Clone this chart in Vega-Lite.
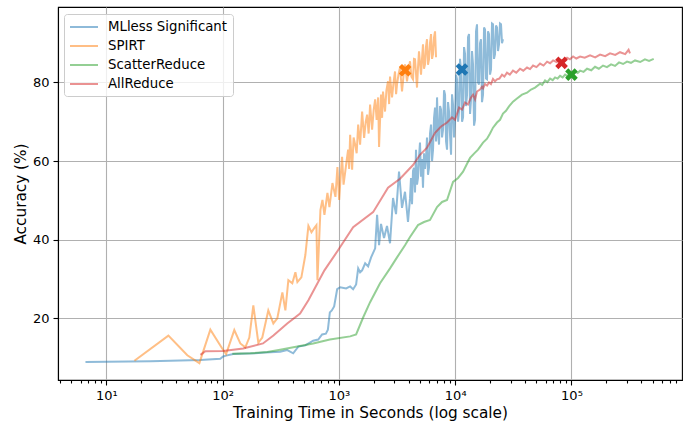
{
  "$schema": "https://vega.github.io/schema/vega-lite/v6.json",
  "width": 624,
  "height": 373,
  "autosize": {"type": "none"},
  "padding": {"left": 58, "top": 7, "right": 7, "bottom": 42},
  "background": "white",
  "config": {
    "font": "DejaVu Sans",
    "view": {"stroke": "black", "strokeWidth": 1.1},
    "axis": {
      "domainColor": "black", "domainWidth": 1.1,
      "tickColor": "black", "tickWidth": 1.1,
      "labelColor": "black", "labelFontSize": 13, "labelFont": "DejaVu Sans",
      "titleFontSize": 15.3, "titleFontWeight": "normal", "titleColor": "black", "titleFont": "DejaVu Sans",
      "gridColor": "#b0b0b0", "gridWidth": 1.1
    }
  },
  "datasets": {
    "lines": [
      {"method": "MLless Significant", "time": 6.6, "accuracy": 8.9},
      {"method": "MLless Significant", "time": 23.9, "accuracy": 9.1},
      {"method": "MLless Significant", "time": 64.2, "accuracy": 9.4},
      {"method": "MLless Significant", "time": 95.3, "accuracy": 9.7},
      {"method": "MLless Significant", "time": 101, "accuracy": 10.3},
      {"method": "MLless Significant", "time": 107, "accuracy": 10.5},
      {"method": "MLless Significant", "time": 123, "accuracy": 10.9},
      {"method": "MLless Significant", "time": 141, "accuracy": 11.0},
      {"method": "MLless Significant", "time": 190, "accuracy": 11.1},
      {"method": "MLless Significant", "time": 232, "accuracy": 11.3},
      {"method": "MLless Significant", "time": 312, "accuracy": 11.5},
      {"method": "MLless Significant", "time": 359, "accuracy": 11.9},
      {"method": "MLless Significant", "time": 404, "accuracy": 11.1},
      {"method": "MLless Significant", "time": 447, "accuracy": 12.8},
      {"method": "MLless Significant", "time": 513, "accuracy": 13.1},
      {"method": "MLless Significant", "time": 600, "accuracy": 14.3},
      {"method": "MLless Significant", "time": 663, "accuracy": 14.6},
      {"method": "MLless Significant", "time": 716, "accuracy": 15.9},
      {"method": "MLless Significant", "time": 772, "accuracy": 16.1},
      {"method": "MLless Significant", "time": 803, "accuracy": 17.1},
      {"method": "MLless Significant", "time": 835, "accuracy": 21.5},
      {"method": "MLless Significant", "time": 868, "accuracy": 22.0},
      {"method": "MLless Significant", "time": 909, "accuracy": 23.0},
      {"method": "MLless Significant", "time": 965, "accuracy": 27.4},
      {"method": "MLless Significant", "time": 1024, "accuracy": 27.9},
      {"method": "MLless Significant", "time": 1153, "accuracy": 27.6},
      {"method": "MLless Significant", "time": 1248, "accuracy": 28.1},
      {"method": "MLless Significant", "time": 1324, "accuracy": 27.4},
      {"method": "MLless Significant", "time": 1405, "accuracy": 28.6},
      {"method": "MLless Significant", "time": 1463, "accuracy": 32.7},
      {"method": "MLless Significant", "time": 1520, "accuracy": 31.7},
      {"method": "MLless Significant", "time": 1582, "accuracy": 32.2},
      {"method": "MLless Significant", "time": 1680, "accuracy": 34.0},
      {"method": "MLless Significant", "time": 1782, "accuracy": 33.2},
      {"method": "MLless Significant", "time": 1890, "accuracy": 35.5},
      {"method": "MLless Significant", "time": 2048, "accuracy": 37.8},
      {"method": "MLless Significant", "time": 2128, "accuracy": 46.3},
      {"method": "MLless Significant", "time": 2213, "accuracy": 38.6},
      {"method": "MLless Significant", "time": 2300, "accuracy": 44.0},
      {"method": "MLless Significant", "time": 2442, "accuracy": 40.4},
      {"method": "MLless Significant", "time": 2590, "accuracy": 43.5},
      {"method": "MLless Significant", "time": 2750, "accuracy": 39.1},
      {"method": "MLless Significant", "time": 2918, "accuracy": 50.6},
      {"method": "MLless Significant", "time": 3097, "accuracy": 46.5},
      {"method": "MLless Significant", "time": 3286, "accuracy": 57.3},
      {"method": "MLless Significant", "time": 3487, "accuracy": 48.1},
      {"method": "MLless Significant", "time": 3700, "accuracy": 52.2},
      {"method": "MLless Significant", "time": 3926, "accuracy": 44.5},
      {"method": "MLless Significant", "time": 4085, "accuracy": 50.5},
      {"method": "MLless Significant", "time": 4166, "accuracy": 55.7},
      {"method": "MLless Significant", "time": 4250, "accuracy": 49.0},
      {"method": "MLless Significant", "time": 4335, "accuracy": 57.5},
      {"method": "MLless Significant", "time": 4421, "accuracy": 58.3},
      {"method": "MLless Significant", "time": 4510, "accuracy": 52.0},
      {"method": "MLless Significant", "time": 4600, "accuracy": 62.9},
      {"method": "MLless Significant", "time": 4692, "accuracy": 54.0},
      {"method": "MLless Significant", "time": 4785, "accuracy": 55.7},
      {"method": "MLless Significant", "time": 4882, "accuracy": 61.0},
      {"method": "MLless Significant", "time": 4978, "accuracy": 64.7},
      {"method": "MLless Significant", "time": 5079, "accuracy": 56.0},
      {"method": "MLless Significant", "time": 5183, "accuracy": 60.5},
      {"method": "MLless Significant", "time": 5283, "accuracy": 53.2},
      {"method": "MLless Significant", "time": 5390, "accuracy": 62.0},
      {"method": "MLless Significant", "time": 5497, "accuracy": 58.0},
      {"method": "MLless Significant", "time": 5606, "accuracy": 60.8},
      {"method": "MLless Significant", "time": 5719, "accuracy": 66.0},
      {"method": "MLless Significant", "time": 5833, "accuracy": 56.5},
      {"method": "MLless Significant", "time": 5949, "accuracy": 58.3},
      {"method": "MLless Significant", "time": 6070, "accuracy": 67.0},
      {"method": "MLless Significant", "time": 6196, "accuracy": 69.3},
      {"method": "MLless Significant", "time": 6320, "accuracy": 60.0},
      {"method": "MLless Significant", "time": 6446, "accuracy": 62.9},
      {"method": "MLless Significant", "time": 6575, "accuracy": 71.0},
      {"method": "MLless Significant", "time": 6706, "accuracy": 73.6},
      {"method": "MLless Significant", "time": 6840, "accuracy": 65.0},
      {"method": "MLless Significant", "time": 6977, "accuracy": 76.2},
      {"method": "MLless Significant", "time": 7117, "accuracy": 67.0},
      {"method": "MLless Significant", "time": 7259, "accuracy": 64.2},
      {"method": "MLless Significant", "time": 7405, "accuracy": 74.0},
      {"method": "MLless Significant", "time": 7553, "accuracy": 73.1},
      {"method": "MLless Significant", "time": 7705, "accuracy": 66.0},
      {"method": "MLless Significant", "time": 7858, "accuracy": 68.0},
      {"method": "MLless Significant", "time": 8015, "accuracy": 78.0},
      {"method": "MLless Significant", "time": 8176, "accuracy": 76.9},
      {"method": "MLless Significant", "time": 8340, "accuracy": 65.0},
      {"method": "MLless Significant", "time": 8506, "accuracy": 62.9},
      {"method": "MLless Significant", "time": 8676, "accuracy": 75.0},
      {"method": "MLless Significant", "time": 8850, "accuracy": 72.6},
      {"method": "MLless Significant", "time": 9027, "accuracy": 66.5},
      {"method": "MLless Significant", "time": 9207, "accuracy": 61.6},
      {"method": "MLless Significant", "time": 9390, "accuracy": 77.0},
      {"method": "MLless Significant", "time": 9579, "accuracy": 74.4},
      {"method": "MLless Significant", "time": 9770, "accuracy": 66.0},
      {"method": "MLless Significant", "time": 9966, "accuracy": 70.5},
      {"method": "MLless Significant", "time": 10170, "accuracy": 82.0},
      {"method": "MLless Significant", "time": 10370, "accuracy": 80.8},
      {"method": "MLless Significant", "time": 10580, "accuracy": 70.0},
      {"method": "MLless Significant", "time": 10790, "accuracy": 72.6},
      {"method": "MLless Significant", "time": 11000, "accuracy": 86.0},
      {"method": "MLless Significant", "time": 11220, "accuracy": 83.3},
      {"method": "MLless Significant", "time": 11450, "accuracy": 70.0},
      {"method": "MLless Significant", "time": 11680, "accuracy": 71.1},
      {"method": "MLless Significant", "time": 11910, "accuracy": 89.0},
      {"method": "MLless Significant", "time": 12150, "accuracy": 87.2},
      {"method": "MLless Significant", "time": 12390, "accuracy": 74.0},
      {"method": "MLless Significant", "time": 12640, "accuracy": 76.9},
      {"method": "MLless Significant", "time": 12890, "accuracy": 91.5},
      {"method": "MLless Significant", "time": 13150, "accuracy": 92.3},
      {"method": "MLless Significant", "time": 13420, "accuracy": 72.0},
      {"method": "MLless Significant", "time": 13680, "accuracy": 75.7},
      {"method": "MLless Significant", "time": 13950, "accuracy": 88.0},
      {"method": "MLless Significant", "time": 14230, "accuracy": 84.6},
      {"method": "MLless Significant", "time": 14520, "accuracy": 69.0},
      {"method": "MLless Significant", "time": 14810, "accuracy": 70.5},
      {"method": "MLless Significant", "time": 15100, "accuracy": 93.0},
      {"method": "MLless Significant", "time": 15400, "accuracy": 94.8},
      {"method": "MLless Significant", "time": 15710, "accuracy": 80.0},
      {"method": "MLless Significant", "time": 16030, "accuracy": 79.5},
      {"method": "MLless Significant", "time": 16350, "accuracy": 90.0},
      {"method": "MLless Significant", "time": 16670, "accuracy": 91.0},
      {"method": "MLless Significant", "time": 17000, "accuracy": 75.0},
      {"method": "MLless Significant", "time": 17350, "accuracy": 76.9},
      {"method": "MLless Significant", "time": 17700, "accuracy": 94.0},
      {"method": "MLless Significant", "time": 18050, "accuracy": 93.5},
      {"method": "MLless Significant", "time": 18410, "accuracy": 81.0},
      {"method": "MLless Significant", "time": 18780, "accuracy": 80.8},
      {"method": "MLless Significant", "time": 19150, "accuracy": 93.0},
      {"method": "MLless Significant", "time": 19530, "accuracy": 92.3},
      {"method": "MLless Significant", "time": 19930, "accuracy": 82.0},
      {"method": "MLless Significant", "time": 20320, "accuracy": 83.3},
      {"method": "MLless Significant", "time": 20730, "accuracy": 95.0},
      {"method": "MLless Significant", "time": 21140, "accuracy": 94.8},
      {"method": "MLless Significant", "time": 21560, "accuracy": 86.0},
      {"method": "MLless Significant", "time": 22000, "accuracy": 87.2},
      {"method": "MLless Significant", "time": 22440, "accuracy": 94.5},
      {"method": "MLless Significant", "time": 22880, "accuracy": 94.0},
      {"method": "MLless Significant", "time": 23340, "accuracy": 88.0},
      {"method": "MLless Significant", "time": 23810, "accuracy": 89.7},
      {"method": "MLless Significant", "time": 24290, "accuracy": 95.0},
      {"method": "MLless Significant", "time": 24770, "accuracy": 94.8},
      {"method": "MLless Significant", "time": 25270, "accuracy": 90.0},
      {"method": "MLless Significant", "time": 25770, "accuracy": 91.0},

      {"method": "SPIRT", "time": 17.4, "accuracy": 9.2},
      {"method": "SPIRT", "time": 34.1, "accuracy": 15.6},
      {"method": "SPIRT", "time": 49.6, "accuracy": 10.6},
      {"method": "SPIRT", "time": 63, "accuracy": 8.6},
      {"method": "SPIRT", "time": 67, "accuracy": 11.0},
      {"method": "SPIRT", "time": 78.3, "accuracy": 17.1},
      {"method": "SPIRT", "time": 99, "accuracy": 12.3},
      {"method": "SPIRT", "time": 107, "accuracy": 10.9},
      {"method": "SPIRT", "time": 125.8, "accuracy": 17.0},
      {"method": "SPIRT", "time": 141.7, "accuracy": 13.6},
      {"method": "SPIRT", "time": 156.5, "accuracy": 12.6},
      {"method": "SPIRT", "time": 169.4, "accuracy": 15.1},
      {"method": "SPIRT", "time": 183.4, "accuracy": 23.3},
      {"method": "SPIRT", "time": 202.5, "accuracy": 13.8},
      {"method": "SPIRT", "time": 219, "accuracy": 15.1},
      {"method": "SPIRT", "time": 246.7, "accuracy": 22.0},
      {"method": "SPIRT", "time": 272.6, "accuracy": 18.7},
      {"method": "SPIRT", "time": 295, "accuracy": 20.0},
      {"method": "SPIRT", "time": 326, "accuracy": 26.6},
      {"method": "SPIRT", "time": 346, "accuracy": 22.0},
      {"method": "SPIRT", "time": 367, "accuracy": 29.7},
      {"method": "SPIRT", "time": 397, "accuracy": 28.9},
      {"method": "SPIRT", "time": 422, "accuracy": 31.7},
      {"method": "SPIRT", "time": 439, "accuracy": 29.2},
      {"method": "SPIRT", "time": 475, "accuracy": 30.4},
      {"method": "SPIRT", "time": 514, "accuracy": 36.1},
      {"method": "SPIRT", "time": 546, "accuracy": 43.5},
      {"method": "SPIRT", "time": 580, "accuracy": 41.9},
      {"method": "SPIRT", "time": 615, "accuracy": 43.0},
      {"method": "SPIRT", "time": 640, "accuracy": 43.7},
      {"method": "SPIRT", "time": 653, "accuracy": 29.7},
      {"method": "SPIRT", "time": 693, "accuracy": 47.6},
      {"method": "SPIRT", "time": 721, "accuracy": 50.1},
      {"method": "SPIRT", "time": 750, "accuracy": 46.3},
      {"method": "SPIRT", "time": 796, "accuracy": 51.9},
      {"method": "SPIRT", "time": 828, "accuracy": 48.3},
      {"method": "SPIRT", "time": 879, "accuracy": 54.4},
      {"method": "SPIRT", "time": 933, "accuracy": 50.9},
      {"method": "SPIRT", "time": 970, "accuracy": 58.5},
      {"method": "SPIRT", "time": 1004, "accuracy": 50.1},
      {"method": "SPIRT", "time": 1034, "accuracy": 56.0},
      {"method": "SPIRT", "time": 1064, "accuracy": 61.1},
      {"method": "SPIRT", "time": 1095, "accuracy": 54.0},
      {"method": "SPIRT", "time": 1129, "accuracy": 57.0},
      {"method": "SPIRT", "time": 1163, "accuracy": 60.0},
      {"method": "SPIRT", "time": 1199, "accuracy": 62.9},
      {"method": "SPIRT", "time": 1223, "accuracy": 58.0},
      {"method": "SPIRT", "time": 1248, "accuracy": 66.7},
      {"method": "SPIRT", "time": 1298, "accuracy": 57.8},
      {"method": "SPIRT", "time": 1337, "accuracy": 66.0},
      {"method": "SPIRT", "time": 1377, "accuracy": 64.2},
      {"method": "SPIRT", "time": 1420, "accuracy": 62.0},
      {"method": "SPIRT", "time": 1463, "accuracy": 69.3},
      {"method": "SPIRT", "time": 1520, "accuracy": 64.2},
      {"method": "SPIRT", "time": 1582, "accuracy": 72.6},
      {"method": "SPIRT", "time": 1646, "accuracy": 65.9},
      {"method": "SPIRT", "time": 1700, "accuracy": 70.0},
      {"method": "SPIRT", "time": 1747, "accuracy": 71.8},
      {"method": "SPIRT", "time": 1800, "accuracy": 67.0},
      {"method": "SPIRT", "time": 1853, "accuracy": 74.4},
      {"method": "SPIRT", "time": 1928, "accuracy": 68.0},
      {"method": "SPIRT", "time": 1990, "accuracy": 73.0},
      {"method": "SPIRT", "time": 2048, "accuracy": 75.7},
      {"method": "SPIRT", "time": 2110, "accuracy": 70.5},
      {"method": "SPIRT", "time": 2173, "accuracy": 76.2},
      {"method": "SPIRT", "time": 2213, "accuracy": 63.6},
      {"method": "SPIRT", "time": 2300, "accuracy": 76.9},
      {"method": "SPIRT", "time": 2350, "accuracy": 71.0},
      {"method": "SPIRT", "time": 2393, "accuracy": 77.7},
      {"method": "SPIRT", "time": 2490, "accuracy": 72.6},
      {"method": "SPIRT", "time": 2560, "accuracy": 78.0},
      {"method": "SPIRT", "time": 2643, "accuracy": 80.3},
      {"method": "SPIRT", "time": 2700, "accuracy": 74.5},
      {"method": "SPIRT", "time": 2750, "accuracy": 81.5},
      {"method": "SPIRT", "time": 2861, "accuracy": 76.2},
      {"method": "SPIRT", "time": 2950, "accuracy": 80.0},
      {"method": "SPIRT", "time": 3036, "accuracy": 82.8},
      {"method": "SPIRT", "time": 3100, "accuracy": 77.0},
      {"method": "SPIRT", "time": 3159, "accuracy": 79.5},
      {"method": "SPIRT", "time": 3250, "accuracy": 82.0},
      {"method": "SPIRT", "time": 3352, "accuracy": 83.8},
      {"method": "SPIRT", "time": 3487, "accuracy": 77.7},
      {"method": "SPIRT", "time": 3600, "accuracy": 82.0},
      {"method": "SPIRT", "time": 3700, "accuracy": 84.6},
      {"method": "SPIRT", "time": 3850, "accuracy": 80.3},
      {"method": "SPIRT", "time": 3960, "accuracy": 83.0},
      {"method": "SPIRT", "time": 4085, "accuracy": 85.4},
      {"method": "SPIRT", "time": 4200, "accuracy": 81.5},
      {"method": "SPIRT", "time": 4335, "accuracy": 80.8},
      {"method": "SPIRT", "time": 4420, "accuracy": 86.0},
      {"method": "SPIRT", "time": 4510, "accuracy": 85.9},
      {"method": "SPIRT", "time": 4692, "accuracy": 78.7},
      {"method": "SPIRT", "time": 4790, "accuracy": 84.0},
      {"method": "SPIRT", "time": 4882, "accuracy": 87.9},
      {"method": "SPIRT", "time": 5079, "accuracy": 82.0},
      {"method": "SPIRT", "time": 5180, "accuracy": 86.0},
      {"method": "SPIRT", "time": 5283, "accuracy": 89.7},
      {"method": "SPIRT", "time": 5390, "accuracy": 83.5},
      {"method": "SPIRT", "time": 5497, "accuracy": 84.6},
      {"method": "SPIRT", "time": 5600, "accuracy": 89.0},
      {"method": "SPIRT", "time": 5719, "accuracy": 91.0},
      {"method": "SPIRT", "time": 5830, "accuracy": 84.5},
      {"method": "SPIRT", "time": 5949, "accuracy": 85.9},
      {"method": "SPIRT", "time": 6070, "accuracy": 90.0},
      {"method": "SPIRT", "time": 6196, "accuracy": 92.3},
      {"method": "SPIRT", "time": 6320, "accuracy": 86.0},
      {"method": "SPIRT", "time": 6446, "accuracy": 87.2},
      {"method": "SPIRT", "time": 6575, "accuracy": 91.5},
      {"method": "SPIRT", "time": 6706, "accuracy": 93.0},
      {"method": "SPIRT", "time": 6840, "accuracy": 86.4},

      {"method": "ScatterReduce", "time": 121, "accuracy": 11.0},
      {"method": "ScatterReduce", "time": 173, "accuracy": 11.1},
      {"method": "ScatterReduce", "time": 242, "accuracy": 11.4},
      {"method": "ScatterReduce", "time": 312, "accuracy": 12.0},
      {"method": "ScatterReduce", "time": 439, "accuracy": 12.8},
      {"method": "ScatterReduce", "time": 600, "accuracy": 13.6},
      {"method": "ScatterReduce", "time": 835, "accuracy": 14.6},
      {"method": "ScatterReduce", "time": 1248, "accuracy": 15.4},
      {"method": "ScatterReduce", "time": 1405, "accuracy": 15.9},
      {"method": "ScatterReduce", "time": 1614, "accuracy": 20.2},
      {"method": "ScatterReduce", "time": 1853, "accuracy": 24.1},
      {"method": "ScatterReduce", "time": 2256, "accuracy": 28.9},
      {"method": "ScatterReduce", "time": 2750, "accuracy": 32.7},
      {"method": "ScatterReduce", "time": 3159, "accuracy": 35.5},
      {"method": "ScatterReduce", "time": 3700, "accuracy": 38.6},
      {"method": "ScatterReduce", "time": 4085, "accuracy": 40.7},
      {"method": "ScatterReduce", "time": 4785, "accuracy": 43.7},
      {"method": "ScatterReduce", "time": 5390, "accuracy": 44.5},
      {"method": "ScatterReduce", "time": 6070, "accuracy": 45.0},
      {"method": "ScatterReduce", "time": 6977, "accuracy": 48.3},
      {"method": "ScatterReduce", "time": 7705, "accuracy": 49.6},
      {"method": "ScatterReduce", "time": 8506, "accuracy": 50.1},
      {"method": "ScatterReduce", "time": 9579, "accuracy": 54.7},
      {"method": "ScatterReduce", "time": 10580, "accuracy": 55.7},
      {"method": "ScatterReduce", "time": 11680, "accuracy": 57.3},
      {"method": "ScatterReduce", "time": 12640, "accuracy": 59.3},
      {"method": "ScatterReduce", "time": 13420, "accuracy": 60.8},
      {"method": "ScatterReduce", "time": 14520, "accuracy": 61.9},
      {"method": "ScatterReduce", "time": 15710, "accuracy": 62.9},
      {"method": "ScatterReduce", "time": 17350, "accuracy": 64.7},
      {"method": "ScatterReduce", "time": 18780, "accuracy": 65.7},
      {"method": "ScatterReduce", "time": 19930, "accuracy": 67.0},
      {"method": "ScatterReduce", "time": 21140, "accuracy": 68.5},
      {"method": "ScatterReduce", "time": 22880, "accuracy": 69.8},
      {"method": "ScatterReduce", "time": 24290, "accuracy": 70.5},
      {"method": "ScatterReduce", "time": 25770, "accuracy": 72.1},
      {"method": "ScatterReduce", "time": 27350, "accuracy": 72.8},
      {"method": "ScatterReduce", "time": 29020, "accuracy": 73.9},
      {"method": "ScatterReduce", "time": 31410, "accuracy": 75.1},
      {"method": "ScatterReduce", "time": 33990, "accuracy": 75.9},
      {"method": "ScatterReduce", "time": 37540, "accuracy": 76.9},
      {"method": "ScatterReduce", "time": 41470, "accuracy": 77.4},
      {"method": "ScatterReduce", "time": 44900, "accuracy": 78.2},
      {"method": "ScatterReduce", "time": 48620, "accuracy": 78.7},
      {"method": "ScatterReduce", "time": 53690, "accuracy": 79.7},
      {"method": "ScatterReduce", "time": 56000, "accuracy": 79.4},
      {"method": "ScatterReduce", "time": 59290, "accuracy": 80.5},
      {"method": "ScatterReduce", "time": 62000, "accuracy": 80.1},
      {"method": "ScatterReduce", "time": 65480, "accuracy": 81.0},
      {"method": "ScatterReduce", "time": 69000, "accuracy": 80.6},
      {"method": "ScatterReduce", "time": 72290, "accuracy": 81.3},
      {"method": "ScatterReduce", "time": 76000, "accuracy": 81.0},
      {"method": "ScatterReduce", "time": 79840, "accuracy": 81.7},
      {"method": "ScatterReduce", "time": 84000, "accuracy": 81.3},
      {"method": "ScatterReduce", "time": 88150, "accuracy": 82.0},
      {"method": "ScatterReduce", "time": 92000, "accuracy": 81.6},
      {"method": "ScatterReduce", "time": 97340, "accuracy": 82.4},
      {"method": "ScatterReduce", "time": 102000, "accuracy": 82.1},
      {"method": "ScatterReduce", "time": 107500, "accuracy": 82.8},
      {"method": "ScatterReduce", "time": 113000, "accuracy": 82.4},
      {"method": "ScatterReduce", "time": 118700, "accuracy": 83.0},
      {"method": "ScatterReduce", "time": 127000, "accuracy": 82.7},
      {"method": "ScatterReduce", "time": 136200, "accuracy": 83.5},
      {"method": "ScatterReduce", "time": 148000, "accuracy": 83.1},
      {"method": "ScatterReduce", "time": 159500, "accuracy": 84.0},
      {"method": "ScatterReduce", "time": 172000, "accuracy": 83.5},
      {"method": "ScatterReduce", "time": 186800, "accuracy": 84.3},
      {"method": "ScatterReduce", "time": 202000, "accuracy": 83.9},
      {"method": "ScatterReduce", "time": 219000, "accuracy": 84.6},
      {"method": "ScatterReduce", "time": 237000, "accuracy": 84.2},
      {"method": "ScatterReduce", "time": 256500, "accuracy": 85.1},
      {"method": "ScatterReduce", "time": 278000, "accuracy": 84.7},
      {"method": "ScatterReduce", "time": 300500, "accuracy": 85.3},
      {"method": "ScatterReduce", "time": 325000, "accuracy": 85.0},
      {"method": "ScatterReduce", "time": 352000, "accuracy": 85.6},
      {"method": "ScatterReduce", "time": 390000, "accuracy": 85.2},
      {"method": "ScatterReduce", "time": 428500, "accuracy": 85.9},
      {"method": "ScatterReduce", "time": 465000, "accuracy": 85.5},
      {"method": "ScatterReduce", "time": 510000, "accuracy": 86.0},

      {"method": "AllReduce", "time": 64.3, "accuracy": 10.7},
      {"method": "AllReduce", "time": 71, "accuracy": 11.6},
      {"method": "AllReduce", "time": 101, "accuracy": 11.7},
      {"method": "AllReduce", "time": 150, "accuracy": 12.3},
      {"method": "AllReduce", "time": 222, "accuracy": 13.6},
      {"method": "AllReduce", "time": 273, "accuracy": 15.6},
      {"method": "AllReduce", "time": 359, "accuracy": 18.7},
      {"method": "AllReduce", "time": 463, "accuracy": 21.2},
      {"method": "AllReduce", "time": 546, "accuracy": 24.6},
      {"method": "AllReduce", "time": 750, "accuracy": 32.2},
      {"method": "AllReduce", "time": 982, "accuracy": 37.3},
      {"method": "AllReduce", "time": 1324, "accuracy": 43.2},
      {"method": "AllReduce", "time": 1967, "accuracy": 47.0},
      {"method": "AllReduce", "time": 2643, "accuracy": 53.2},
      {"method": "AllReduce", "time": 3352, "accuracy": 55.5},
      {"method": "AllReduce", "time": 4335, "accuracy": 59.0},
      {"method": "AllReduce", "time": 4978, "accuracy": 61.6},
      {"method": "AllReduce", "time": 5719, "accuracy": 63.4},
      {"method": "AllReduce", "time": 6706, "accuracy": 67.2},
      {"method": "AllReduce", "time": 7553, "accuracy": 68.8},
      {"method": "AllReduce", "time": 8506, "accuracy": 69.8},
      {"method": "AllReduce", "time": 9390, "accuracy": 71.1},
      {"method": "AllReduce", "time": 9966, "accuracy": 70.5},
      {"method": "AllReduce", "time": 10790, "accuracy": 73.6},
      {"method": "AllReduce", "time": 11450, "accuracy": 73.1},
      {"method": "AllReduce", "time": 12150, "accuracy": 74.9},
      {"method": "AllReduce", "time": 12890, "accuracy": 74.4},
      {"method": "AllReduce", "time": 13680, "accuracy": 76.2},
      {"method": "AllReduce", "time": 14230, "accuracy": 76.9},
      {"method": "AllReduce", "time": 14810, "accuracy": 75.7},
      {"method": "AllReduce", "time": 15400, "accuracy": 77.7},
      {"method": "AllReduce", "time": 16350, "accuracy": 78.2},
      {"method": "AllReduce", "time": 17000, "accuracy": 78.9},
      {"method": "AllReduce", "time": 17350, "accuracy": 78.5},
      {"method": "AllReduce", "time": 18050, "accuracy": 79.6},
      {"method": "AllReduce", "time": 18800, "accuracy": 79.2},
      {"method": "AllReduce", "time": 19530, "accuracy": 80.0},
      {"method": "AllReduce", "time": 20300, "accuracy": 79.6},
      {"method": "AllReduce", "time": 21140, "accuracy": 80.9},
      {"method": "AllReduce", "time": 22000, "accuracy": 80.3},
      {"method": "AllReduce", "time": 22880, "accuracy": 80.8},
      {"method": "AllReduce", "time": 24000, "accuracy": 81.0},
      {"method": "AllReduce", "time": 25270, "accuracy": 82.0},
      {"method": "AllReduce", "time": 26500, "accuracy": 81.5},
      {"method": "AllReduce", "time": 27890, "accuracy": 82.5},
      {"method": "AllReduce", "time": 29500, "accuracy": 82.0},
      {"method": "AllReduce", "time": 31410, "accuracy": 83.0},
      {"method": "AllReduce", "time": 33500, "accuracy": 82.5},
      {"method": "AllReduce", "time": 36090, "accuracy": 83.5},
      {"method": "AllReduce", "time": 38500, "accuracy": 83.0},
      {"method": "AllReduce", "time": 41470, "accuracy": 83.8},
      {"method": "AllReduce", "time": 44000, "accuracy": 83.4},
      {"method": "AllReduce", "time": 46730, "accuracy": 84.3},
      {"method": "AllReduce", "time": 50000, "accuracy": 83.9},
      {"method": "AllReduce", "time": 53690, "accuracy": 84.8},
      {"method": "AllReduce", "time": 57500, "accuracy": 84.3},
      {"method": "AllReduce", "time": 61680, "accuracy": 85.3},
      {"method": "AllReduce", "time": 65500, "accuracy": 84.9},
      {"method": "AllReduce", "time": 69500, "accuracy": 85.6},
      {"method": "AllReduce", "time": 74500, "accuracy": 85.2},
      {"method": "AllReduce", "time": 79840, "accuracy": 85.8},
      {"method": "AllReduce", "time": 85500, "accuracy": 85.5},
      {"method": "AllReduce", "time": 91720, "accuracy": 86.3},
      {"method": "AllReduce", "time": 97000, "accuracy": 85.9},
      {"method": "AllReduce", "time": 103300, "accuracy": 86.6},
      {"method": "AllReduce", "time": 110000, "accuracy": 86.1},
      {"method": "AllReduce", "time": 118700, "accuracy": 86.6},
      {"method": "AllReduce", "time": 130000, "accuracy": 86.3},
      {"method": "AllReduce", "time": 144600, "accuracy": 86.9},
      {"method": "AllReduce", "time": 160000, "accuracy": 86.4},
      {"method": "AllReduce", "time": 176200, "accuracy": 87.1},
      {"method": "AllReduce", "time": 195000, "accuracy": 86.7},
      {"method": "AllReduce", "time": 214700, "accuracy": 87.4},
      {"method": "AllReduce", "time": 238000, "accuracy": 87.0},
      {"method": "AllReduce", "time": 261600, "accuracy": 87.7},
      {"method": "AllReduce", "time": 290000, "accuracy": 87.2},
      {"method": "AllReduce", "time": 310000, "accuracy": 88.3},
      {"method": "AllReduce", "time": 318700, "accuracy": 87.4}
    ],
    "markers": [
      {"method": "MLless Significant", "time": 11430, "accuracy": 83.3},
      {"method": "SPIRT", "time": 3710, "accuracy": 83.1},
      {"method": "ScatterReduce", "time": 100000, "accuracy": 82.0},
      {"method": "AllReduce", "time": 82200, "accuracy": 85.0}
    ]
  },
  "layer": [
    {
      "data": {"name": "lines"},
      "mark": {"type": "line", "strokeWidth": 2, "opacity": 0.5, "clip": true},
      "encoding": {
        "x": {
          "field": "time", "type": "quantitative",
          "scale": {"type": "log", "domain": [3.83, 893000], "nice": false},
          "axis": {
            "title": "Training Time in Seconds (log scale)",
            "values": [4,5,6,7,8,9,10,20,30,40,50,60,70,80,90,100,200,300,400,500,600,700,800,900,1000,2000,3000,4000,5000,6000,7000,8000,9000,10000,20000,30000,40000,50000,60000,70000,80000,90000,100000,200000,300000,400000,500000,600000,700000,800000],
            "labelExpr": "datum.value == 10 ? '10¹' : datum.value == 100 ? '10²' : datum.value == 1000 ? '10³' : datum.value == 10000 ? '10⁴' : datum.value == 100000 ? '10⁵' : ''",
            "labelOverlap": false,
            "labelFlush": false,
            "labelBound": false,
            "labelPadding": 4,
            "titlePadding": 3,
            "tickSize": {"condition": {"test": "datum.value == 10 || datum.value == 100 || datum.value == 1000 || datum.value == 10000 || datum.value == 100000", "value": 5}, "value": 3},
            "gridOpacity": {"condition": {"test": "datum.value == 10 || datum.value == 100 || datum.value == 1000 || datum.value == 10000 || datum.value == 100000", "value": 1}, "value": 0}
          }
        },
        "y": {
          "field": "accuracy", "type": "quantitative",
          "scale": {"domain": [4.3, 99.2], "nice": false, "zero": false},
          "axis": {"title": "Accuracy (%)", "values": [20, 40, 60, 80], "tickSize": 5, "labelPadding": 4, "titlePadding": 4}
        },
        "color": {
          "field": "method", "type": "nominal",
          "scale": {"domain": ["MLless Significant", "SPIRT", "ScatterReduce", "AllReduce"], "range": ["#1f77b4", "#ff7f0e", "#2ca02c", "#d62728"]},
          "legend": {
            "title": null, "orient": "none", "legendX": 6, "legendY": 7,
            "symbolType": "M -2 0 L 2 0", "symbolSize": 196, "symbolOffset": 7, "symbolStrokeWidth": 2, "symbolOpacity": 0.5,
            "labelFontSize": 13.3, "labelFont": "DejaVu Sans", "labelColor": "black", "labelOffset": 16,
            "rowPadding": 4, "padding": 5,
            "fillColor": "rgba(255,255,255,0.8)", "strokeColor": "#cccccc", "cornerRadius": 3
          }
        }
      }
    },
    {
      "data": {"name": "markers"},
      "mark": {"type": "point", "shape": "M -1 -0.5 L -0.5 -1 L 0 -0.5 L 0.5 -1 L 1 -0.5 L 0.5 0 L 1 0.5 L 0.5 1 L 0 0.5 L -0.5 1 L -1 0.5 L -0.5 0 Z", "filled": true, "size": 160, "opacity": 1},
      "encoding": {
        "x": {"field": "time", "type": "quantitative"},
        "y": {"field": "accuracy", "type": "quantitative"},
        "color": {
          "field": "method", "type": "nominal",
          "scale": {"domain": ["MLless Significant", "SPIRT", "ScatterReduce", "AllReduce"], "range": ["#1f77b4", "#ff7f0e", "#2ca02c", "#d62728"]},
          "legend": null
        }
      }
    }
  ],
  "resolve": {"scale": {"color": "independent"}}
}
